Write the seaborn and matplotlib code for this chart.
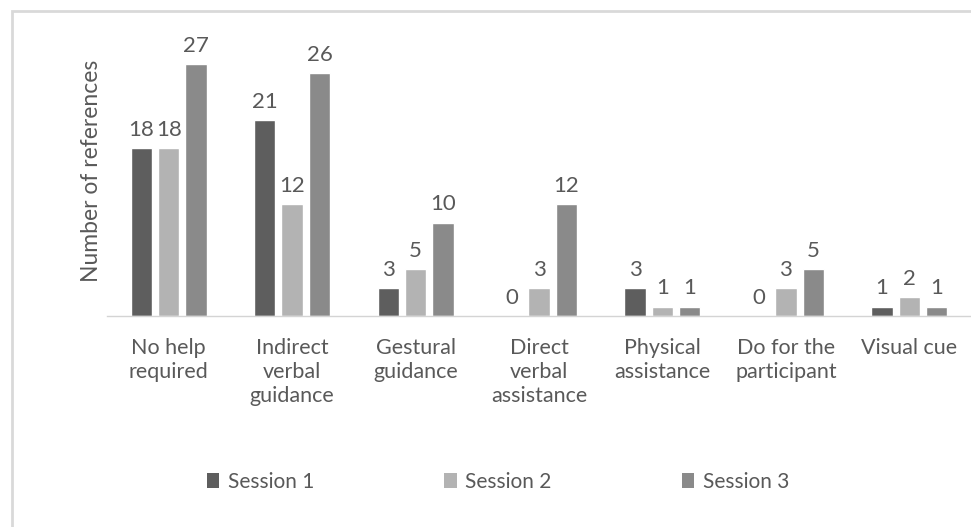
import matplotlib
matplotlib.use("Agg")
import matplotlib.pyplot as plt
import seaborn as sns
import pandas as pd
from matplotlib.patches import Rectangle, Patch

categories = ["No help\nrequired", "Indirect\nverbal\nguidance", "Gestural\nguidance",
              "Direct\nverbal\nassistance", "Physical\nassistance", "Do for the\nparticipant",
              "Visual cue"]
sessions = ["Session 1", "Session 2", "Session 3"]
session1 = [18, 21, 3, 0, 3, 0, 1]
session2 = [18, 12, 5, 3, 1, 3, 2]
session3 = [27, 26, 10, 12, 1, 5, 1]
colors = ["#5e5e5e", "#b3b3b3", "#8a8a8a"]

rows = []
for s, vals in zip(sessions, [session1, session2, session3]):
    for c, v in zip(categories, vals):
        rows.append({"cat": c, "session": s, "value": v})
df = pd.DataFrame(rows)

sns.set_theme(style="white")
plt.rcParams["font.family"] = ["Lato", "DejaVu Sans"]
text_color = "#595959"

fig = plt.figure(figsize=(9.71, 5.27), dpi=100)
W, H = 971, 527
ax = fig.add_axes([107 / W, 1 - 316 / H, 864 / W, 280 / H])

sns.barplot(data=df, x="cat", y="value", hue="session", palette=colors,
            width=0.664, gap=0.22, ax=ax, legend=False, saturation=1)

for cont in ax.containers:
    ax.bar_label(cont, padding=6, fontsize=16, color=text_color)

ax.set_xlim(-0.5, len(categories) - 0.5)
ax.set_ylim(0, 30)
ax.set_yticks([])
ax.set_xlabel("")
ax.set_ylabel("Number of references", fontsize=16.5, color=text_color)
ax.yaxis.set_label_coords(-5 / 864, 0.52)

for sp in ["top", "right", "left"]:
    ax.spines[sp].set_visible(False)
ax.spines["bottom"].set_color("#d4d4d4")
ax.spines["bottom"].set_linewidth(1)

ax.set_xticks(range(len(categories)))
ax.set_xticklabels(categories, fontsize=15.5, color=text_color, linespacing=1.25, va="top")
ax.tick_params(axis="x", which="major", length=0, pad=16)
ax.set_xticks([i - 0.5 for i in range(len(categories) + 1)], minor=True)
ax.tick_params(axis="x", which="minor", length=8, color="#d4d4d4", width=1)

# legend
handles = [Patch(facecolor=c, edgecolor="none", label=s) for c, s in zip(colors, sessions)]
fig.legend(handles=handles, loc="center", bbox_to_anchor=(498 / W, 1 - 482 / H), ncol=3,
           frameon=False, fontsize=15, labelcolor=text_color, handlelength=0.6,
           handleheight=0.75, handletextpad=0.4, columnspacing=6.25)

# outer frame
fig.patches.append(Rectangle((12 / W, -0.01), 1.0, 1 - 11 / H + 0.01, transform=fig.transFigure,
                             fill=False, edgecolor="#d9d9d9", linewidth=2))

fig.savefig("out.png", dpi=100)
